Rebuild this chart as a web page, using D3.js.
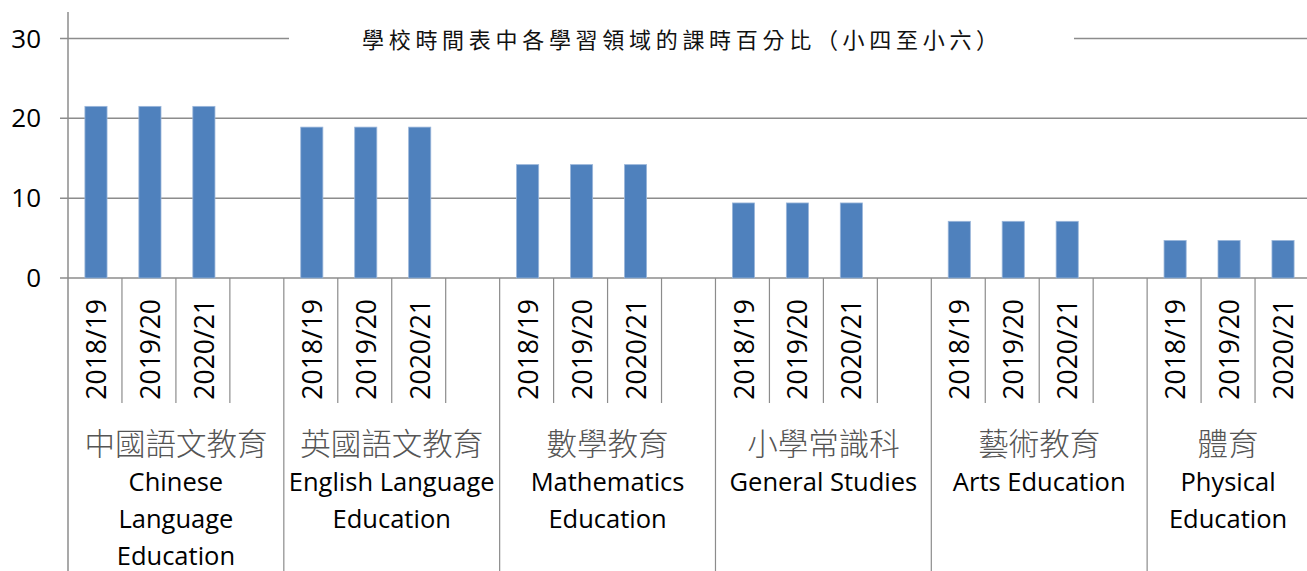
<!DOCTYPE html>
<html>
<head>
<meta charset="utf-8">
<script src="https://cdn.jsdelivr.net/npm/d3@7"></script>
<style>
  html, body { margin: 0; padding: 0; background: #fff; }
  svg { display: block; }
</style>
</head>
<body>
<div id="chart"></div>
<script>
// data
const categoriesZh = ['中國語文教育', '英國語文教育', '數學教育', '小學常識科', '藝術教育', '體育'];
const categoriesEn = [
  ['Chinese', 'Language', 'Education'],
  ['English Language', 'Education'],
  ['Mathematics', 'Education'],
  ['General Studies'],
  ['Arts Education'],
  ['Physical', 'Education']
];
const years = ['2018/19', '2019/20', '2020/21'];
const pct2018 = [21.5, 18.9, 14.2, 9.4, 7.1, 4.7];
const pct2019 = [21.5, 18.9, 14.2, 9.4, 7.1, 4.7];
const pct2020 = [21.5, 18.9, 14.2, 9.4, 7.1, 4.7];
const yTicks = [0, 10, 20, 30];
const title = '學校時間表中各學習領域的課時百分比（小四至小六）';

const series = [pct2018, pct2019, pct2020];

const width = 1307;
const height = 571;
const plotLeft = 68;
const plotTop = 38.5;
const plotBottom = 278;

// one slot per year, plus an empty slot between groups
const slots = [];
categoriesZh.forEach((c, i) => {
  years.forEach((yr, j) => slots.push({ key: i + '-' + j, cat: i, year: j, value: series[j][i] }));
  if (i < categoriesZh.length - 1) slots.push({ key: i + '-gap', cat: i, year: -1 });
});

const x = d3.scaleBand()
  .domain(slots.map(d => d.key))
  .range([plotLeft, 1309])
  .paddingInner(0)
  .paddingOuter(0);

const y = d3.scaleLinear()
  .domain([0, 30])
  .range([plotBottom, plotTop]);

const bw = x.bandwidth();
const barW = bw * 0.41;

const svg = d3.select('#chart')
  .append('svg')
  .attr('width', width)
  .attr('height', height);

const gridColor = '#8c8c8c';
const sans = "'Open Sans', 'Noto Sans', sans-serif";
const cjk = "'Noto Sans CJK TC', 'Noto Sans CJK SC', sans-serif";

// gridlines and ticks
svg.append('g')
  .selectAll('line')
  .data(yTicks)
  .enter()
  .append('line')
  .attr('x1', plotLeft - 8)
  .attr('x2', width)
  .attr('y1', d => y(d))
  .attr('y2', d => y(d))
  .attr('stroke', gridColor)
  .attr('stroke-width', 1.5);

// y labels
svg.append('g')
  .selectAll('text')
  .data(yTicks)
  .enter()
  .append('text')
  .attr('x', 41)
  .attr('y', d => y(d) + 9)
  .attr('text-anchor', 'end')
  .attr('font-family', sans)
  .attr('font-size', 26)
  .attr('fill', '#000')
  .text(d => d);

// title box breaks the top gridline
svg.append('rect')
  .attr('x', 289)
  .attr('y', 26)
  .attr('width', 1074 - 289)
  .attr('height', 28)
  .attr('fill', '#fff');

svg.append('text')
  .attr('x', 362)
  .attr('y', 48)
  .attr('font-family', cjk)
  .attr('font-size', 22)
  .attr('font-weight', 400)
  .attr('letter-spacing', 4.7)
  .attr('fill', '#111')
  .text(title);

// bars
svg.append('g')
  .selectAll('rect')
  .data(slots.filter(d => d.year >= 0))
  .enter()
  .append('rect')
  .attr('x', d => x(d.key) + (bw - barW) / 2 + 1)
  .attr('y', d => y(d.value))
  .attr('width', barW)
  .attr('height', d => y(0) - y(d.value))
  .attr('fill', '#4f81bd')
  .attr('stroke', '#9ab6da')
  .attr('stroke-width', 0.8);

// y axis line
svg.append('line')
  .attr('x1', plotLeft).attr('x2', plotLeft)
  .attr('y1', 12).attr('y2', height)
  .attr('stroke', gridColor)
  .attr('stroke-width', 1.5);

// category dividers: short ones between years, long ones between groups
const dividers = [];
slots.forEach((d, k) => {
  if (k === 0) return;
  dividers.push({ pos: x(d.key), long: d.year === 0 });
});
svg.append('g')
  .selectAll('line')
  .data(dividers)
  .enter()
  .append('line')
  .attr('x1', d => d.pos)
  .attr('x2', d => d.pos)
  .attr('y1', plotBottom)
  .attr('y2', d => d.long ? height : 403)
  .attr('stroke', gridColor)
  .attr('stroke-width', 1.2);

// year labels
svg.append('g')
  .selectAll('text')
  .data(slots.filter(d => d.year >= 0))
  .enter()
  .append('text')
  .attr('transform', d => `translate(${x(d.key) + bw / 2 + 1.5}, 299) rotate(-90)`)
  .attr('text-anchor', 'end')
  .attr('dy', '0.36em')
  .attr('font-family', sans)
  .attr('font-size', 26.5)
  .attr('fill', '#000')
  .text(d => years[d.year]);

// group labels
const groupCenter = i => {
  const s = slots.filter(d => d.cat === i);
  const a = x(s[0].key);
  const b = x(s[s.length - 1].key) + bw;
  return (a + b) / 2;
};

svg.append('g')
  .selectAll('text')
  .data(categoriesZh)
  .enter()
  .append('text')
  .attr('x', (d, i) => groupCenter(i))
  .attr('y', 455)
  .attr('text-anchor', 'middle')
  .attr('font-family', cjk)
  .attr('font-size', 30.5)
  .attr('font-weight', 300)
  .attr('fill', '#555')
  .text(d => d);

const en = svg.append('g')
  .selectAll('text')
  .data(categoriesEn)
  .enter()
  .append('text')
  .attr('text-anchor', 'middle')
  .attr('font-family', sans)
  .attr('font-size', 25.5)
  .attr('fill', '#000');

en.selectAll('tspan')
  .data((d, i) => d.map(t => ({ t: t, i: i })))
  .enter()
  .append('tspan')
  .attr('x', d => groupCenter(d.i))
  .attr('y', (d, k) => 491 + k * 37)
  .text(d => d.t);
</script>
</body>
</html>
